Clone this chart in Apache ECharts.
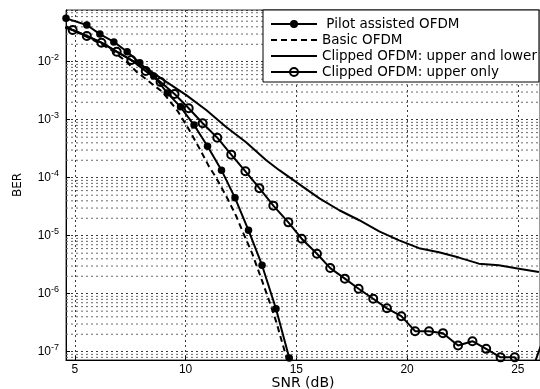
<!DOCTYPE html>
<html>
<head>
<meta charset="utf-8">
<script src="https://cdn.jsdelivr.net/npm/echarts@6/dist/echarts.min.js"></script>
<style>
html,body{margin:0;padding:0;background:#fff;}
#chart{width:540px;height:389px;}
</style>
</head>
<body>
<div id="chart"></div>
<script>
// values (SNR in dB, BER)
var pilotSnr = [4.6, 5.54, 6.13, 6.76, 7.36, 7.93, 8.56, 9.17, 9.77, 10.38, 10.99, 11.62, 12.23, 12.84, 13.45, 14.08, 14.68];
var pilotBer = [0.056, 0.043, 0.030, 0.022, 0.0149, 0.0096, 0.0057, 0.0029, 1.67e-3, 8.1e-4, 3.5e-4, 1.35e-4, 4.5e-5, 1.24e-5, 3.1e-6, 5.5e-7, 7.8e-8];

var basicSnr = [4.6, 5.2, 5.9, 6.6, 7.33, 7.81, 8.96, 9.64, 10.14, 10.59, 11.04, 11.38, 11.9, 12.28, 12.61, 13.0, 13.4, 13.75, 14.1, 14.59];
var basicBer = [0.041, 0.031, 0.023, 0.0165, 0.0100, 0.0066, 0.0030, 1.41e-3, 6.9e-4, 3.4e-4, 1.6e-4, 1.0e-4, 4.3e-5, 2.2e-5, 1.1e-5, 5.0e-6, 1.9e-6, 8.0e-7, 3.2e-7, 7.1e-8];

var bothSnr = [4.6, 4.9, 5.54, 6.2, 6.89, 7.55, 8.23, 9.13, 10.03, 10.93, 11.83, 12.73, 13.64, 14.23, 15.14, 16.04, 16.94, 17.84, 18.74, 19.64, 20.54, 21.44, 22.34, 23.24, 24.14, 25.05, 25.95];
var bothBer = [0.040, 0.0352, 0.0278, 0.0213, 0.0149, 0.0107, 7.7e-3, 4.5e-3, 2.66e-3, 1.47e-3, 7.5e-4, 4.1e-4, 2.0e-4, 1.35e-4, 7.7e-5, 4.4e-5, 2.75e-5, 1.85e-5, 1.19e-5, 8.3e-6, 6.1e-6, 5.2e-6, 4.2e-6, 3.3e-6, 3.1e-6, 2.7e-6, 2.36e-6];

var upperSnr = [4.26, 4.9, 5.54, 6.2, 6.89, 7.55, 8.2, 8.87, 9.5, 10.14, 10.77, 11.43, 12.06, 12.7, 13.33, 13.96, 14.64, 15.24, 15.93, 16.53, 17.19, 17.81, 18.47, 19.09, 19.74, 20.36, 20.99, 21.62, 22.3, 22.95, 23.57, 24.22, 24.86, 25.51, 26.15];
var upperBer = [0.042, 0.0352, 0.0278, 0.0213, 0.0149, 0.0107, 0.0069, 0.00446, 0.00277, 1.58e-3, 8.7e-4, 4.9e-4, 2.5e-4, 1.29e-4, 6.6e-5, 3.3e-5, 1.7e-5, 8.9e-6, 4.9e-6, 2.77e-6, 1.82e-6, 1.22e-6, 8.2e-7, 5.6e-7, 4.1e-7, 2.26e-7, 2.26e-7, 2.09e-7, 1.28e-7, 1.52e-7, 1.12e-7, 8.0e-8, 8.0e-8, 3.5e-8, 1.66e-7];

var names = ['Pilot assisted OFDM', 'Basic OFDM', 'Clipped OFDM: upper and lower', 'Clipped OFDM: upper only'];

function pairs(xs, ys){
    return xs.map(function(x, i){ return [x, ys[i]]; });
}

var xMin = 4.6, xMax = 26;
var yMin = 7.2e-8, yMax = 0.078;
var gridDash = [2, 3];
var majorColor = '#3a3a3a';
var minorColor = '#6a6a6a';

var series = [
    {
        name: names[0],
        type: 'line',
        data: pairs(pilotSnr, pilotBer),
        symbol: 'circle',
        symbolSize: 7.5,
        itemStyle: {color: '#000'},
        lineStyle: {color: '#000', width: 2},
        z: 5
    },
    {
        name: names[1],
        type: 'line',
        data: pairs(basicSnr, basicBer),
        symbol: 'none',
        itemStyle: {color: '#000'},
        lineStyle: {color: '#000', width: 2, type: [6, 4]},
        z: 4
    },
    {
        name: names[2],
        type: 'line',
        data: pairs(bothSnr, bothBer),
        symbol: 'none',
        itemStyle: {color: '#000'},
        lineStyle: {color: '#000', width: 2},
        z: 4
    },
    {
        name: names[3],
        type: 'line',
        data: pairs(upperSnr, upperBer),
        symbol: 'circle',
        symbolSize: 8,
        itemStyle: {color: 'rgba(255,255,255,0)', borderColor: '#000', borderWidth: 2},
        lineStyle: {color: '#000', width: 2},
        z: 5
    }
];

// minor log grid lines (2..9 x 10^k), matlab style
for (var k = -8; k <= -1; k++) {
    for (var m = 2; m <= 9; m++) {
        var v = m * Math.pow(10, k);
        if (v > yMin && v < yMax) {
            series.push({
                type: 'line',
                data: [[xMin, v], [xMax, v]],
                symbol: 'none',
                silent: true,
                lineStyle: {color: minorColor, width: 1, type: gridDash},
                z: 1
            });
        }
    }
}

var hideSym = {color: 'rgba(0,0,0,0)', borderWidth: 0, opacity: 0};

var chart = echarts.init(document.getElementById('chart'));
var option = {
    animation: false,
    backgroundColor: '#fff',
    grid: {
        left: 66, top: 10, right: 0, bottom: 29,
        outerBoundsMode: 'none',
        containLabel: false,
        show: true, borderColor: '#333', borderWidth: 1, backgroundColor: 'transparent'
    },
    legend: {
        data: [
            {name: names[0]},
            {name: names[1], itemStyle: hideSym},
            {name: names[2], itemStyle: hideSym},
            {name: names[3]}
        ],
        orient: 'vertical',
        left: 263,
        top: 10,
        padding: [7, 2, 3, 7],
        itemWidth: 46,
        itemHeight: 10,
        itemGap: 2,
        backgroundColor: '#fff',
        borderColor: '#000',
        borderWidth: 1,
        borderRadius: 0,
        z: 10,
        textStyle: {fontFamily: 'DejaVu Sans', fontSize: 13.5, color: '#000', lineHeight: 13},
        formatter: function(name){
            return name === 'Pilot assisted OFDM' ? ' ' + name : name;
        }
    },
    xAxis: {
        type: 'value',
        min: xMin,
        max: xMax,
        name: 'SNR (dB)',
        nameLocation: 'middle',
        nameGap: 16,
        nameMoveOverlap: false,
        nameTextStyle: {fontFamily: 'DejaVu Sans', fontSize: 14, color: '#000'},
        axisLine: {show: true, lineStyle: {color: '#000', width: 1}},
        axisTick: {show: true, inside: true, length: 4, lineStyle: {color: '#000'}},
        axisLabel: {
            margin: 4, fontFamily: 'Liberation Sans', fontSize: 12, color: '#000',
            showMinLabel: false, showMaxLabel: false
        },
        splitLine: {show: true, lineStyle: {type: gridDash, color: majorColor, width: 1}}
    },
    yAxis: {
        type: 'log',
        logBase: 10,
        min: yMin,
        max: yMax,
        splitNumber: 6,
        name: 'BER',
        nameLocation: 'middle',
        nameGap: 42,
        nameMoveOverlap: false,
        nameTextStyle: {fontFamily: 'DejaVu Sans', fontSize: 12, color: '#000'},
        axisLine: {show: true, lineStyle: {color: '#000', width: 1}},
        axisTick: {show: true, inside: true, length: 4, lineStyle: {color: '#000'}},
        axisLabel: {
            margin: 7,
            showMinLabel: false, showMaxLabel: false,
            formatter: function(v){
                return '{b|10}{s|-' + Math.round(-Math.log10(v)) + '}';
            },
            rich: {
                b: {fontFamily: 'Liberation Sans', fontSize: 12, color: '#000', lineHeight: 18},
                s: {fontFamily: 'Liberation Sans', fontSize: 9, color: '#000', lineHeight: 10, verticalAlign: 'top'}
            }
        },
        splitLine: {show: true, lineStyle: {type: gridDash, color: majorColor, width: 1}}
    },
    series: series
};
chart.setOption(option);
</script>
</body>
</html>
